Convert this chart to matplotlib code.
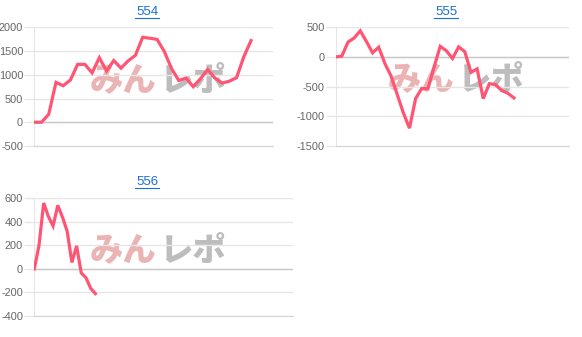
import matplotlib
matplotlib.use("Agg")
import matplotlib.pyplot as plt
from matplotlib.lines import Line2D

plt.rcParams['font.family'] = ['Liberation Sans', 'DejaVu Sans']
plt.rcParams['axes.unicode_minus'] = False

# data
titles = ["554", "555", "556"]
s554 = [0, 0, 170, 840, 770, 890, 1220, 1220, 1040, 1360, 1080, 1300, 1140, 1295,
        1410, 1790, 1770, 1745, 1490, 1130, 880, 930, 750, 915, 1110, 930, 825,
        865, 940, 1380, 1720]
s555 = [0, 15, 250, 320, 440, 260, 70, 165, -110, -320, -630, -940, -1200, -700,
        -530, -535, -170, 180, 105, -25, 170, 90, -260, -200, -700, -450, -465,
        -565, -610, -690]
s556 = [0, 200, 560, 445, 365, 540, 440, 320, 55, 195, -35, -75, -165, -210]
series = [s554, s555, s556]
n_labels = [34, 39, 56]
yticks = [[-500, 0, 500, 1000, 1500, 2000],
          [-1500, -1000, -500, 0, 500],
          [-400, -200, 0, 200, 400, 600]]

W, H = 582, 337
fig = plt.figure(figsize=(W / 100, H / 100), dpi=100)

# axes boxes in pixels: left, right, top, bottom
boxes = [(34.3, 272.7, 27.3, 146), (335.7, 569.3, 27.3, 146), (34.3, 292.7, 198.3, 316)]
title_pos = [(147, 12), (446, 12), (147, 182)]
logo_pos = [(90, 80), (388, 79), (90, 250)]

line_col = '#ff5574'
grid_col = '#e6e6e6'

for i in range(3):
    l, r, t, b = boxes[i]
    ax = fig.add_axes([l / W, 1 - b / H, (r - l) / W, (b - t) / H])
    ys = series[i]
    ax.plot(range(len(ys)), ys, color=line_col, lw=2.3, solid_joinstyle='miter', zorder=3)
    ax.set_xlim(0, n_labels[i] - 1)
    ax.set_ylim(yticks[i][0], yticks[i][-1])
    ax.set_yticks(yticks[i])
    ax.set_xticks([])
    ax.grid(axis='y', color=grid_col, lw=1)
    ax.set_axisbelow(True)
    ax.axhline(0, color='#c8c8c8', lw=1, zorder=1)
    for s in ['top', 'right']:
        ax.spines[s].set_visible(False)
    ax.spines['left'].set_color(grid_col)
    ax.spines['bottom'].set_color('#d4d4d4')
    ax.tick_params(axis='y', length=7, width=1, color=grid_col, pad=1,
                   labelsize=7.9, labelcolor='#666666')

    # watermark logo
    lx, ly = logo_pos[i]
    ax.text(lx / W, 1 - ly / H, "みん", transform=fig.transFigure, fontsize=24,
            fontweight='black', color='#ebb4b4', va='center', ha='left',
            family=['Noto Sans CJK JP'], zorder=0.5)
    ax.text((lx + 70) / W, 1 - ly / H, "レポ", transform=fig.transFigure, fontsize=24,
            fontweight='black', color='#bdbdbd', va='center', ha='left',
            family=['Noto Sans CJK JP'], zorder=0.5)

    # title link
    tx, ty = title_pos[i]
    fig.text(tx / W, 1 - ty / H, titles[i], color='#1a6ed8', fontsize=9.5,
             ha='center', va='center')
    fig.add_artist(Line2D([(tx - 12) / W, (tx + 12) / W], [1 - (ty + 6) / H] * 2,
                          color='#1a6ed8', lw=0.8))

fig.savefig("out.png", dpi=100)
